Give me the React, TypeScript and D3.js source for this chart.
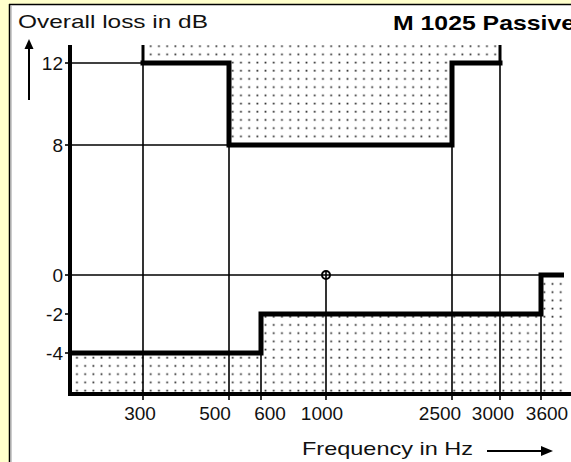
import React from "react";
import * as d3 from "d3";

// ---- data ----
const freqTicks = [300, 500, 600, 1000, 2500, 3000, 3600];
const lossTicks = [12, 8, 0, -2, -4];
// upper tolerance mask (loss must stay below)
const upperFreq = [300, 300, 500, 500, 2500, 2500, 3000, 3000];
const upperLoss = [13, 12, 12, 8, 8, 12, 12, 13];
// lower tolerance mask (loss must stay above)
const lowerFreq = [200, 600, 600, 3600, 3600, 3800];
const lowerLoss = [-4, -4, -2, -2, 0, 0];
// reference point
const refFreq = 1000;
const refLoss = 0;

const W = 571;
const H = 462;

// schematic (piecewise) scales as in the original drawing
const x = d3
  .scaleLinear()
  .domain([200, 300, 500, 600, 1000, 2500, 3000, 3600, 3800, 4000])
  .range([70, 143, 229, 261, 326, 452, 500, 541, 564, 580]);
const y = d3
  .scaleLinear()
  .domain([-6, -4, -2, 0, 8, 12, 13])
  .range([394, 353, 314, 275, 145, 63, 45]);

const labelDx: Record<number, number> = { 300: -3, 500: -14, 600: 9, 1000: -4, 2500: -12, 3000: -7, 3600: 6 };

// where each vertical grid line starts (top value in dB)
const gridTop: Record<number, number> = { 300: 12, 500: 12, 600: -2, 1000: 0, 2500: 12, 3000: 12, 3600: -2 };
// where each horizontal grid line ends (frequency)
const hGridEnd: Record<number, number> = { 12: 300, 8: 500, 0: 3600 };

export default function App() {
  const upperPts = upperFreq.map((f, i) => [f, upperLoss[i]] as [number, number]);
  const lowerPts = lowerFreq.map((f, i) => [f, lowerLoss[i]] as [number, number]);
  const line = d3
    .line<[number, number]>()
    .x((d) => x(d[0]))
    .y((d) => y(d[1]));
  const upperArea = d3
    .area<[number, number]>()
    .x((d) => x(d[0]))
    .y0(() => y(13))
    .y1((d) => y(d[1]));
  const lowerArea = d3
    .area<[number, number]>()
    .x((d) => x(d[0]))
    .y0(() => y(-6))
    .y1((d) => y(d[1]));

  const font = "'Liberation Sans', Arial, sans-serif";

  return (
    <svg
      width={W}
      height={H}
      style={{ position: "absolute", left: 0, top: 0, display: "block" }}
    >
      <defs>
        <pattern id="dots" patternUnits="userSpaceOnUse" width={8.2} height={8.2} x={0} y={0}>
          <rect x={2.3} y={4.3} width={1.7} height={1.7} fill="#222" />
        </pattern>
      </defs>
      {/* frame */}
      <rect x={0} y={0} width={W} height={H} fill="#ffffcc" />
      <rect x={9} y={4} width={W - 9} height={H - 4} fill="#ffffff" />
      <line x1={9.5} y1={4} x2={9.5} y2={H} stroke="#000" strokeWidth={1.5} />
      <line x1={11} y1={6} x2={11} y2={H} stroke="#999" strokeWidth={1} />
      <line x1={9} y1={4.5} x2={W} y2={4.5} stroke="#000" strokeWidth={1.5} />

      {/* dotted masks */}
      <path d={upperArea(upperPts) || ""} fill="url(#dots)" />
      <path d={lowerArea(lowerPts) || ""} fill="url(#dots)" />

      {/* horizontal grid */}
      {lossTicks
        .filter((v) => hGridEnd[v] !== undefined)
        .map((v) => (
          <line key={"h" + v} x1={x(200)} x2={x(hGridEnd[v])} y1={y(v)} y2={y(v)} stroke="#000" strokeWidth={1.6} />
        ))}
      {/* vertical grid + ticks */}
      {freqTicks.map((f) => (
        <line key={"v" + f} x1={x(f)} x2={x(f)} y1={y(gridTop[f])} y2={y(-6) + 6} stroke="#000" strokeWidth={1.6} />
      ))}

      {/* masks */}
      <line x1={x(300)} x2={x(300)} y1={y(13)} y2={y(12)} stroke="#000" strokeWidth={3} />
      <line x1={x(3000)} x2={x(3000)} y1={y(13)} y2={y(12)} stroke="#000" strokeWidth={3} />
      <path
        d={line(upperPts.slice(1, -1)) || ""}
        fill="none"
        stroke="#000"
        strokeWidth={5}
        strokeLinejoin="miter"
        strokeLinecap="square"
      />
      <path d={line(lowerPts) || ""} fill="none" stroke="#000" strokeWidth={5} strokeLinejoin="miter" />

      {/* axes */}
      <line x1={x(200)} x2={x(200)} y1={y(13)} y2={y(-6) + 2} stroke="#000" strokeWidth={4} />
      <line x1={x(200) - 2} x2={W} y1={y(-6)} y2={y(-6)} stroke="#000" strokeWidth={4} />
      {lossTicks.map((v) => (
        <g key={"yt" + v}>
          <line x1={x(200) - 5} x2={x(200)} y1={y(v)} y2={y(v)} stroke="#000" strokeWidth={1.6} />
          <text
            x={x(200) - 7}
            y={y(v)}
            dy="0.36em"
            textAnchor="end"
            fontFamily={font}
            fontSize={19}
            fill="#111"
          >
            {v}
          </text>
        </g>
      ))}
      {freqTicks.map((f) => (
        <text
          key={"xt" + f}
          x={x(f) + labelDx[f]}
          y={420}
          textAnchor="middle"
          fontFamily={font}
          fontSize={19}
          fill="#111"
        >
          {f}
        </text>
      ))}

      {/* reference point */}
      <circle cx={x(refFreq)} cy={y(refLoss)} r={4} fill="none" stroke="#000" strokeWidth={2} />
      <line x1={x(refFreq)} x2={x(refFreq)} y1={y(refLoss) - 4} y2={y(refLoss)} stroke="#000" strokeWidth={1.6} />

      {/* titles */}
      <text x={18} y={28} fontFamily={font} fontSize={19} textLength={190} lengthAdjust="spacingAndGlyphs" fill="#111">
        Overall loss in dB
      </text>
      <text
        x={393}
        y={30}
        fontFamily={font}
        fontSize={21}
        fontWeight="bold"
        textLength={182}
        lengthAdjust="spacingAndGlyphs"
        fill="#000"
      >
        M 1025 Passive
      </text>
      <text x={302} y={455} fontFamily={font} fontSize={19} textLength={171} lengthAdjust="spacingAndGlyphs" fill="#111">
        Frequency in Hz
      </text>

      {/* arrows */}
      <line x1={29} x2={29} y1={47} y2={100} stroke="#000" strokeWidth={2} />
      <path d="M29,39 L24.5,49 L33.5,49 Z" fill="#000" />
      <line x1={487} x2={544} y1={451} y2={451} stroke="#000" strokeWidth={2} />
      <path d="M553,451 L541,446 L541,456 Z" fill="#000" />
    </svg>
  );
}
